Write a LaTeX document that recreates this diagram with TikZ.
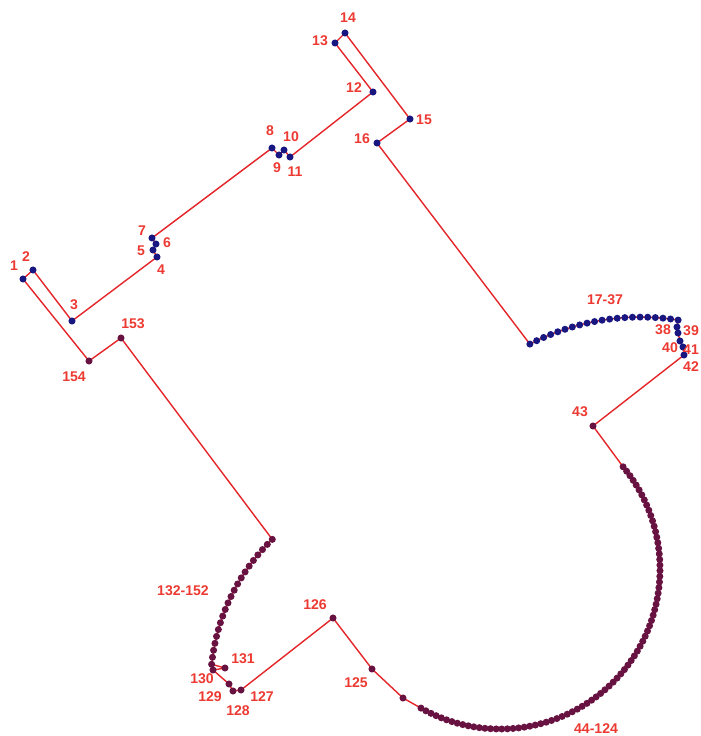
\documentclass[tikz,border=0pt]{standalone}
\usepackage{fontspec}
\setmainfont{Liberation Sans}
\definecolor{trackred}{RGB}{228,38,42}
\definecolor{labelred}{RGB}{236,58,50}
\definecolor{dotblue}{RGB}{24,22,128}
\definecolor{dotplum}{RGB}{104,18,66}
\begin{document}
\begin{tikzpicture}[x=0.025cm,y=-0.025cm,
  track/.style={draw=trackred,line width=1pt,line join=round},
  bluedot/.style={fill=dotblue},
  plumdot/.style={fill=dotplum},
  lbl/.style={text=labelred,font=\fontsize{10}{11}\selectfont\bfseries,inner sep=0pt}]
\useasboundingbox (0,0) rectangle (700,736);

\coordinate (p1) at (23,279);
\coordinate (p2) at (33,270);
\coordinate (p3) at (72,321);
\coordinate (p4) at (157,257);
\coordinate (p5) at (153,250);
\coordinate (p6) at (156,244);
\coordinate (p7) at (152,238);
\coordinate (p8) at (272,148);
\coordinate (p9) at (279,155);
\coordinate (p10) at (284,150);
\coordinate (p11) at (290,157);
\coordinate (p12) at (373,92);
\coordinate (p13) at (335,43);
\coordinate (p14) at (345,33);
\coordinate (p15) at (410,119);
\coordinate (p16) at (377,143);
\foreach \i in {17,...,37} {
  \pgfmathsetmacro\ang{-117.4+(\i-17)*36.4/20}
  \coordinate (p\i) at ([shift={(\ang:240.4)}]640.5,557.5);
}
\coordinate (p38) at (677,327);
\coordinate (p39) at (678,333);
\coordinate (p40) at (680,341);
\coordinate (p41) at (683,347);
\coordinate (p42) at (684,355);
\coordinate (p43) at (593,426);
\foreach \i in {44,...,123} {
  \pgfmathsetmacro\ang{-39.7+(\i-44)*159.3/79}
  \coordinate (p\i) at ([shift={(\ang:160)}]500,569);
}
\coordinate (p124) at (403,698);
\coordinate (p125) at (372,669);
\coordinate (p126) at (333,618);
\coordinate (p127) at (241,690);
\coordinate (p128) at (233,691);
\coordinate (p129) at (229,684);
\coordinate (p130) at (213,670);
\coordinate (p131) at (225,668);
\foreach \i in {132,...,152} {
  \pgfmathsetmacro\ang{-174+(\i-132)*39.8/20}
  \coordinate (p\i) at ([shift={(\ang:204)}]414.5,685.6);
}
\coordinate (p153) at (121,338);
\coordinate (p154) at (89,361);

\draw[track] (p1) \foreach \i in {2,...,154} {-- (p\i)} -- cycle;

\foreach \i in {1,...,42} \fill[bluedot] (p\i) circle (2.5pt);
\foreach \i in {43,...,154} \fill[plumdot] (p\i) circle (2.5pt);

\node[lbl] (l1) at (14,266) {1};
\node[lbl] (l2) at (26,257) {2};
\node[lbl] (l3) at (74,305) {3};
\node[lbl] (l4) at (161,270) {4};
\node[lbl] (l5) at (141,251) {5};
\node[lbl] (l6) at (167,243) {6};
\node[lbl] (l7) at (142,231) {7};
\node[lbl] (l8) at (270,131) {8};
\node[lbl] (l9) at (277,168) {9};
\node[lbl] (l10) at (291,137) {10};
\node[lbl] (l11) at (295,172) {11};
\node[lbl] (l12) at (354,88) {12};
\node[lbl] (l13) at (320,41) {13};
\node[lbl] (l14) at (348,18) {14};
\node[lbl] (l15) at (424,120) {15};
\node[lbl] (l16) at (362,139) {16};
\node[lbl] (l17) at (605,300) {17-37};
\node[lbl] (l38) at (663,330) {38};
\node[lbl] (l39) at (691,331) {39};
\node[lbl] (l40) at (670,348) {40};
\node[lbl] (l41) at (691,350) {41};
\node[lbl] (l42) at (691,367) {42};
\node[lbl] (l43) at (580,412) {43};
\node[lbl] (l44) at (596,729) {44-124};
\node[lbl] (l125) at (356,683) {125};
\node[lbl] (l126) at (315,605) {126};
\node[lbl] (l127) at (262,697) {127};
\node[lbl] (l128) at (238,711) {128};
\node[lbl] (l129) at (210,697) {129};
\node[lbl] (l130) at (202,679) {130};
\node[lbl] (l131) at (243,659) {131};
\node[lbl] (l132) at (183,591) {132-152};
\node[lbl] (l153) at (133,324) {153};
\node[lbl] (l154) at (74,377) {154};
\end{tikzpicture}
\end{document}
